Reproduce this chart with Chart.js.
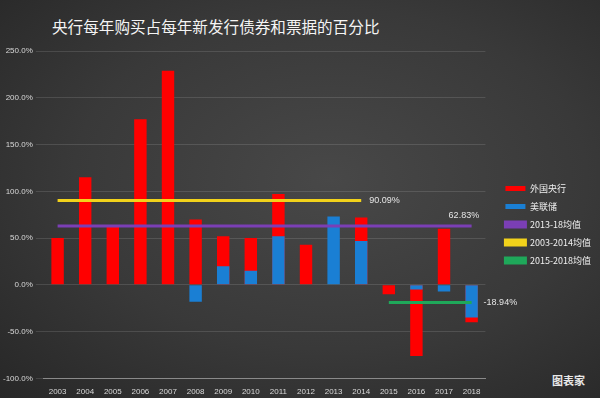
<!DOCTYPE html>
<html>
<head>
<meta charset="utf-8">
<script src="https://cdn.jsdelivr.net/npm/chart.js@4/dist/chart.umd.min.js"></script>
<style>
  html, body { margin: 0; padding: 0; }
  body {
    width: 600px; height: 398px; overflow: hidden; position: relative;
    background: radial-gradient(ellipse at 55% 45%, #484848 0%, #393939 55%, #272727 100%);
    font-family: "Noto Sans CJK SC", "Noto Sans", sans-serif;
  }
  #title {
    position: absolute; left: 52px; top: 15px; margin: 0;
    font-size: 15.6px; font-weight: normal; color: #f4f4f4;
  }
  #logo {
    position: absolute; left: 552px; top: 372px;
    font-size: 11px; color: #e8e8e8; font-weight: bold;
  }
  canvas { position: absolute; left: 0; top: 0; }
</style>
</head>
<body>
<h1 id="title">央行每年购买占每年新发行债券和票据的百分比</h1>
<div id="logo">图表家</div>
<canvas id="myChart" width="600" height="398"></canvas>
<script>
//数据
const jaren = ["2003","2004","2005","2006","2007","2008","2009","2010","2011","2012","2013","2014","2015","2016","2017","2018"];
const buitenland = [50, 115, 62, 177, 229, 70, 52, 50, 97, 43, null, 72, -10, -76, 60, -40];
const fed = [null, null, null, null, null, -18, 20, 15, 52, null, 73, 47, null, -5, -7, -35];
const gem1318 = [62.83, 62.83, 62.83, 62.83, 62.83, 62.83, 62.83, 62.83, 62.83, 62.83, 62.83, 62.83, 62.83, 62.83, 62.83, 62.83];
const gem0314 = [90.09, 90.09, 90.09, 90.09, 90.09, 90.09, 90.09, 90.09, 90.09, 90.09, 90.09, 90.09, null, null, null, null];
const gem1518 = [null, null, null, null, null, null, null, null, null, null, null, null, -18.94, -18.94, -18.94, -18.94];
const yTicks = [250, 200, 150, 100, 50, 0, -50, -100];

// label aan het einde van de lijn
const eindLabel = {
  id: "eindLabel",
  afterDatasetsDraw(chart) {
    const ctx = chart.ctx;
    chart.data.datasets.forEach((ds, i) => {
      if (!ds.eindTekst) return;
      const meta = chart.getDatasetMeta(i);
      let last = null;
      meta.data.forEach((p, j) => { if (ds.data[j] !== null) last = p; });
      if (!last) return;
      ctx.save();
      ctx.font = "9px 'Liberation Sans', sans-serif";
      ctx.fillStyle = "#e6e6e6";
      ctx.textBaseline = "middle";
      ctx.fillText(ds.eindTekst, last.x + ds.tekstDx, last.y + ds.tekstDy);
      ctx.restore();
    });
  }
};

// legenda iets naar rechts
const legendaSchuif = {
  id: "legendaSchuif",
  afterLayout(chart) {
    chart.legend.left += 11;
    chart.legend.right += 11;
  }
};

const myChart = document.getElementById("myChart");
new Chart(myChart, {
  type: "bar",
  data: {
    labels: jaren,
    datasets: [
      {
        label: "外国央行",
        data: buitenland,
        backgroundColor: "#ff0000",
        grouped: false,
        barPercentage: 0.45,
        categoryPercentage: 1,
        order: 3,
      },
      {
        label: "美联储",
        data: fed,
        backgroundColor: "#1a7fd4",
        grouped: false,
        barPercentage: 0.45,
        categoryPercentage: 1,
        order: 2,
      },
      {
        type: "line",
        label: "2013-18均值",
        data: gem1318,
        borderColor: "#7b3fb5",
        backgroundColor: "#7b3fb5",
        borderWidth: 3,
        pointRadius: 0,
        fill: false,
        order: 1,
        eindTekst: "62.83%",
        tekstDx: -23,
        tekstDy: -11,
      },
      {
        type: "line",
        label: "2003-2014均值",
        data: gem0314,
        borderColor: "#f2d21b",
        backgroundColor: "#f2d21b",
        borderWidth: 3,
        pointRadius: 0,
        fill: false,
        order: 0,
        eindTekst: "90.09%",
        tekstDx: 8,
        tekstDy: 0,
      },
      {
        type: "line",
        label: "2015-2018均值",
        data: gem1518,
        borderColor: "#1fa85a",
        backgroundColor: "#1fa85a",
        borderWidth: 3,
        pointRadius: 0,
        fill: false,
        order: 0,
        eindTekst: "-18.94%",
        tekstDx: 12,
        tekstDy: 0,
      },
    ],
  },
  options: {
    responsive: false,
    animation: false,
    layout: { padding: { top: 51, left: 0, right: 10, bottom: 0 } },
    plugins: {
      legend: {
        position: "right",
        labels: {
          color: "#f0f0f0",
          font: { size: 9, family: "'Noto Sans CJK SC', sans-serif" },
          boxWidth: 20,
          boxHeight: 5,
          padding: 9,
          sort: (a, b) => a.datasetIndex - b.datasetIndex,
        },
      },
      tooltip: { enabled: false },
    },
    scales: {
      x: {
        grid: { display: false },
        border: { color: "#8a8a8a" },
        ticks: { color: "#d8d8d8", font: { size: 8 }, maxRotation: 0, autoSkip: false, padding: 1 },
      },
      y: {
        min: -100,
        max: 250,
        grid: { color: "rgba(255,255,255,0.12)" },
        border: { display: false },
        afterBuildTicks(axis) { axis.ticks = yTicks.map(v => ({ value: v })); },
        ticks: {
          color: "#d8d8d8",
          font: { size: 8 },
          callback: v => v.toFixed(1) + "%",
        },
      },
    },
  },
  plugins: [eindLabel, legendaSchuif],
});
</script>
</body>
</html>
